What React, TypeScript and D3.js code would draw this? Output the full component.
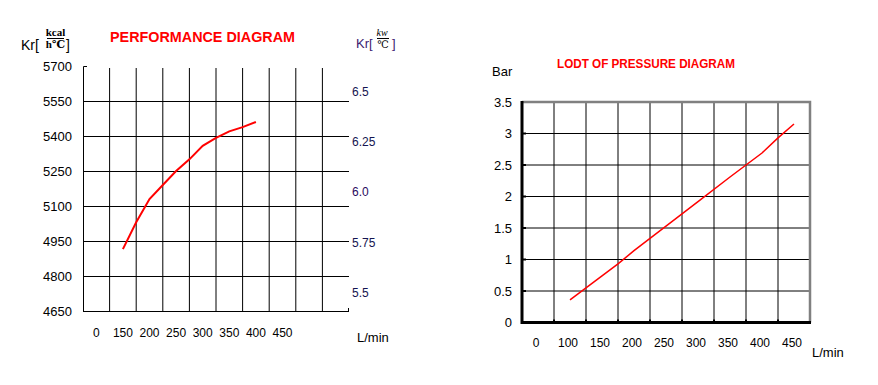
import React from "react";
import * as d3 from "d3";

// performance diagram (left)
const perfFlow = [150, 175, 200, 225, 250, 275, 300, 325, 350, 375, 400];
const perfKr = [4915, 5030, 5130, 5190, 5250, 5300, 5358, 5392, 5420, 5438, 5460];
const perfYTicks = [4650, 4800, 4950, 5100, 5250, 5400, 5550, 5700];
const perfXTicks = [100, 150, 200, 250, 300, 350, 400, 450];
const perfXLabels = ["0", "150", "200", "250", "300", "350", "400", "450"];
const perfKwTicks = [6.5, 6.25, 6.0, 5.75, 5.5];
const perfKwLabels = ["6.5", "6.25", "6.0", "5.75", "5.5"];
const KCAL_TO_KW = 0.001163;

// pressure diagram (right)
const presFlow = [100, 125, 150, 175, 200, 250, 300, 350, 400, 425, 450];
const presBar = [0.36, 0.55, 0.74, 0.93, 1.14, 1.53, 1.92, 2.31, 2.69, 2.93, 3.15];
const presYTicks = [0, 0.5, 1, 1.5, 2, 2.5, 3, 3.5];
const presYLabels = ["0", "0.5", "1", "1.5", "2", "2.5", "3", "3.5"];
const presXTicks = [50, 100, 150, 200, 250, 300, 350, 400, 450];
const presXLabels = ["0", "100", "150", "200", "250", "300", "350", "400", "450"];

const SANS = "'Liberation Sans', Arial, sans-serif";
const SERIF = "'Liberation Serif', 'DejaVu Serif', serif";

const PerformanceChart = () => {
  const x = d3.scaleLinear().domain([75, 575]).range([83, 349]);
  const y = d3.scaleLinear().domain([4650, 5700]).range([311, 66]);
  const kw = d3.scaleLinear().domain([4650 * KCAL_TO_KW, 5700 * KCAL_TO_KW]).range([311, 66]);
  const gridX = d3.range(125, 575, 50);
  const line = d3.line<number>().x((d, i) => x(perfFlow[i])).y(d => y(d));

  return (
    <g fontFamily={SANS}>
      {/* vertical grid */}
      {gridX.map(v => (
        <line key={v} x1={x(v)} x2={x(v)} y1={68} y2={y(4650)} stroke="#000" />
      ))}
      {/* horizontal grid */}
      {perfYTicks.slice(0, -1).map(v => (
        <line key={v} x1={x(75)} x2={x(575)} y1={y(v) + 0.5} y2={y(v) + 0.5} stroke="#000" />
      ))}
      <path d={`M${x(75) + 4},${y(5700) + 0.5}H${x(75) + 0.5}V${y(4650)}`} fill="none" stroke="#000" />
      <line x1={x(575) - 0.5} x2={x(575) - 0.5} y1={y(4650) - 3} y2={y(4650)} stroke="#000" />

      {perfYTicks.map(v => (
        <text key={v} x={72} y={y(v)} dy="0.35em" textAnchor="end" fontSize={13}>{v}</text>
      ))}
      {perfXTicks.map((v, i) => (
        <text key={v} x={x(v)} y={333} dy="0.35em" textAnchor="middle" fontSize={12}>{perfXLabels[i]}</text>
      ))}
      {perfKwTicks.map((v, i) => (
        <text key={v} x={352} y={kw(v)} dy="0.35em" fontSize={12} fill={i === 2 ? "#2a0a5e" : "#141450"}>
          {perfKwLabels[i]}
        </text>
      ))}

      <path d={line(perfKr) || ""} fill="none" stroke="#ff0000" strokeWidth={2} />

      <text x={110} y={37} dy="0.35em" fontSize={14} fontWeight="bold" fill="#ff0000" textLength={185} lengthAdjust="spacingAndGlyphs">
        PERFORMANCE DIAGRAM
      </text>

      {/* Kr[kcal/h℃] */}
      <text x={21} y={45} dy="0.35em" fontSize={14}>Kr[</text>
      <text x={55.5} y={32} dy="0.35em" fontSize={11} fontWeight="bold" fontFamily={SERIF} textAnchor="middle">kcal</text>
      <line x1={47} x2={64} y1={38.5} y2={38.5} stroke="#000" />
      <text x={55.5} y={44} dy="0.35em" fontSize={11} fontWeight="bold" fontFamily={SERIF} textAnchor="middle">h℃</text>
      <text x={66} y={45} dy="0.35em" fontSize={14}>]</text>

      {/* Kr[kw/℃] */}
      <text x={356} y={43} dy="0.35em" fontSize={13} fill="#3c1a70">Kr[</text>
      <text x={382} y={32} dy="0.35em" fontSize={10} fontStyle="italic" fontFamily={SERIF} textAnchor="middle">kw</text>
      <line x1={377} x2={389} y1={38.5} y2={38.5} stroke="#000" />
      <text x={383} y={44} dy="0.35em" fontSize={10} fontFamily={SERIF} textAnchor="middle">℃</text>
      <text x={392} y={43} dy="0.35em" fontSize={13} fill="#3c1a70">]</text>

      <text x={357} y={337} dy="0.35em" fontSize={13}>L/min</text>
    </g>
  );
};

const PressureChart = () => {
  const x = d3.scaleLinear().domain([25, 475]).range([522, 810]);
  const y = d3.scaleLinear().domain([0, 3.5]).range([322.5, 102]);
  const gridX = d3.range(75, 475, 50);
  const line = d3.line<number>().x((d, i) => x(presFlow[i])).y(d => y(d));

  return (
    <g fontFamily={SANS}>
      {gridX.map(v => (
        <line key={v} x1={x(v)} x2={x(v)} y1={y(3.5)} y2={y(0)} stroke="#000" />
      ))}
      {gridX.map(v => (
        <line key={"t" + v} x1={x(v)} x2={x(v)} y1={y(0) - 3} y2={y(0)} stroke="#000" strokeWidth={2} />
      ))}
      {presYTicks.slice(1, -1).map(v => (
        <line key={v} x1={x(25)} x2={x(475)} y1={y(v)} y2={y(v)} stroke="#000" />
      ))}
      {presYTicks.slice(1, -1).map(v => (
        <line key={"t" + v} x1={x(25)} x2={x(25) + 4} y1={y(v)} y2={y(v)} stroke="#000" strokeWidth={2} />
      ))}
      {/* grey frame top / right */}
      <path d={`M${x(25)},${y(3.5)}H${x(475)}V${y(0)}`} fill="none" stroke="#808080" strokeWidth={2.5} />
      {/* black axes */}
      <path d={`M${x(25)},${y(3.5) - 1}V${y(0)}H${x(475) + 1}`} fill="none" stroke="#000" strokeWidth={3} />

      {presYTicks.map((v, i) => (
        <text key={v} x={512} y={y(v)} dy="0.35em" textAnchor="end" fontSize={13}>{presYLabels[i]}</text>
      ))}
      {presXTicks.map((v, i) => (
        <text key={v} x={x(v) - 2} y={343} dy="0.35em" textAnchor="middle" fontSize={12}>{presXLabels[i]}</text>
      ))}

      <path d={line(presBar) || ""} fill="none" stroke="#ff0000" strokeWidth={1.5} />

      <text x={557} y={64} dy="0.35em" fontSize={12} fontWeight="bold" fill="#ff0000" textLength={178} lengthAdjust="spacingAndGlyphs">
        LODT OF PRESSURE DIAGRAM
      </text>
      <text x={492} y={71} dy="0.35em" fontSize={13}>Bar</text>
      <text x={812} y={352} dy="0.35em" fontSize={13}>L/min</text>
    </g>
  );
};

export default function App() {
  return (
    <svg width={878} height={385} style={{ position: "absolute", left: 0, top: 0, background: "#fff" }}>
      <PerformanceChart />
      <PressureChart />
    </svg>
  );
}
